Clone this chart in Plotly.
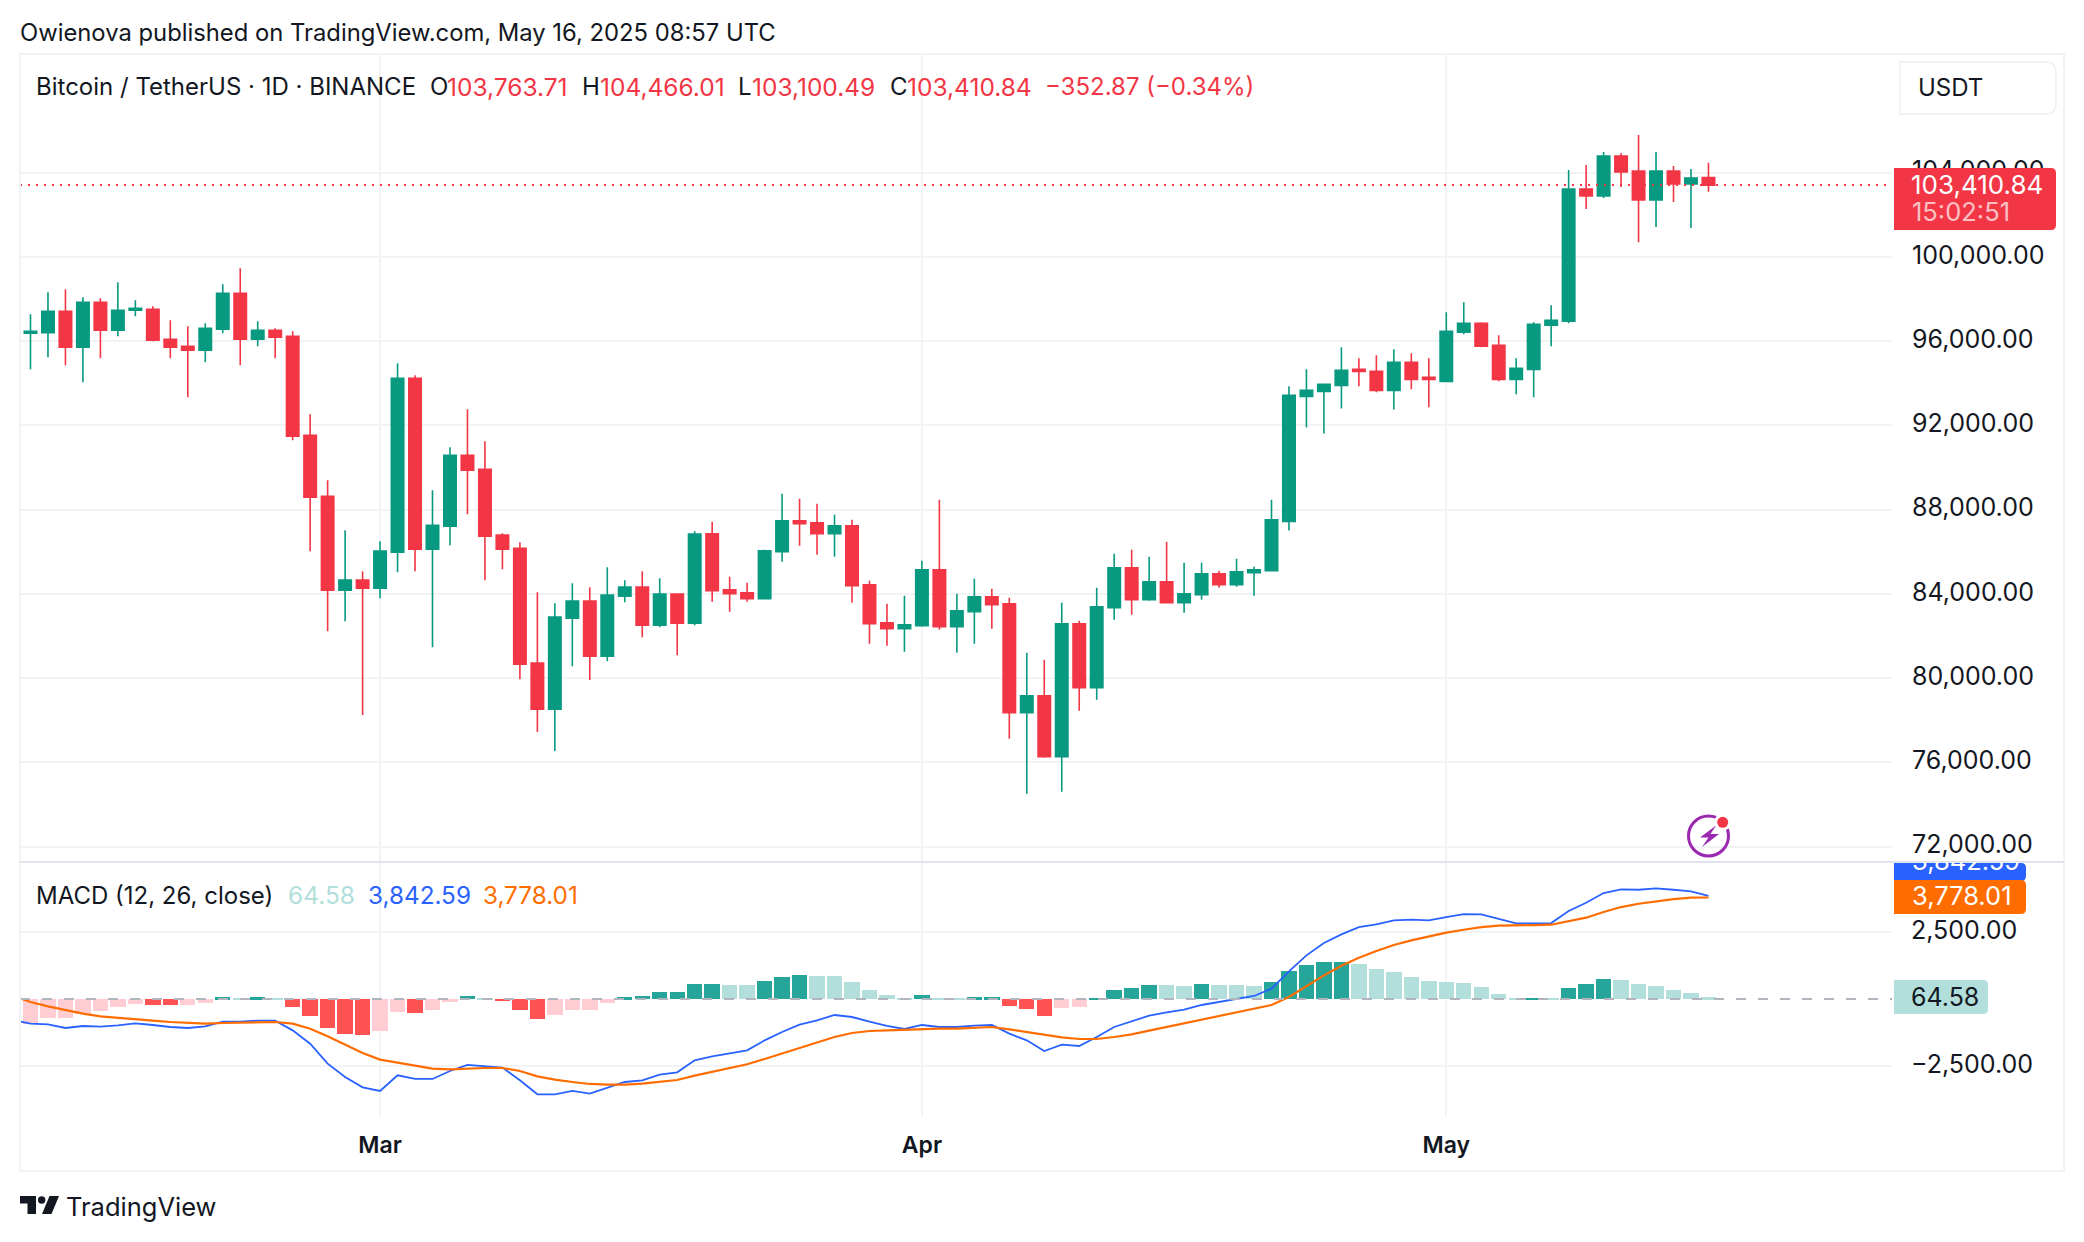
import pandas as pd
import plotly.graph_objects as go

W, H = 2084, 1242

RED = "#F23645"
GREEN = "#089981"
INK = "#131722"
GRID = "#F2F3F4"
FONT = "Inter"

# daily candles, Feb 9 to May 16 2025
dates = pd.date_range("2025-02-09", "2025-05-16", freq="D")
line_dates = pd.date_range("2025-02-08", "2025-05-16", freq="D")

open_ = [96377, 96400, 97421, 95713, 97848, 96520, 97469, 97516, 96092, 95760,
         95570, 96567, 98276, 96092, 96520, 96235, 91536, 88641, 84180, 84655,
         84275, 85983, 94242, 86126, 87217, 90587, 89923, 86791, 86173, 80715,
         78533, 82851, 83658, 81048, 83895, 84322, 82519, 83990, 82614, 86860,
         84201, 84058, 83773, 86005, 87478, 87383, 86860, 87240, 84438, 82634,
         82349, 82491, 85151, 82444, 83156, 83868, 83536, 78359, 79167, 76270,
         82586, 79547, 83346, 85246, 83726, 84581, 83583, 83963, 84961, 84438,
         85008, 85103, 87437, 93381, 93618, 93904, 94664, 94569, 93666, 94997,
         94284, 94094, 96424, 96852, 95805, 94189, 94664, 96757, 96947, 103223,
         102890, 104793, 104079, 102700, 104079, 103461, 103763.71]
high = [97279, 98323, 98465, 98086, 98038, 98798, 97943, 97659, 96994, 96709,
        96852, 98703, 99462, 96947, 96614, 96472, 92533, 89401, 87028, 85082,
        86506, 94953, 94384, 88926, 90967, 92770, 91252, 86885, 86458, 84085,
        83563, 84512, 84322, 85272, 84655, 85082, 84750, 83990, 86980, 87430,
        84818, 84533, 86100, 88760, 88522, 88285, 87763, 87525, 84628, 83536,
        83916, 85578, 88475, 84011, 84723, 84248, 83821, 81209, 80877, 83583,
        82729, 84296, 85910, 86100, 85768, 86480, 85483, 85483, 85103, 85673,
        85293, 88475, 93856, 94664, 93951, 95710, 95187, 95330, 95615, 95425,
        95187, 97375, 97850, 96899, 96281, 95187, 96899, 97708, 104127, 104365,
        104983, 104935, 105791, 104983, 104317, 104174, 104466.01]
low = [94669, 95238, 94858, 94052, 95191, 96235, 97184, 95997, 95191, 93340,
       95001, 96377, 94858, 95760, 95191, 91299, 86031, 82234, 82708, 78248,
       83800, 85034, 85082, 81475, 86316, 87787, 84655, 85177, 79956, 77441,
       76539, 80573, 79909, 80810, 83610, 81949, 82424, 81095, 82519, 83631,
       83156, 83631, 83773, 85530, 86290, 85863, 85768, 83583, 81636, 81541,
       81256, 82444, 82301, 81209, 81636, 82349, 77125, 74513, 76222, 74608,
       78455, 78977, 82776, 83014, 83678, 83583, 83109, 83726, 84296, 84343,
       83916, 85103, 87009, 91907, 91621, 92810, 93856, 93571, 92762, 93713,
       92858, 94094, 96329, 95710, 94094, 93476, 93333, 95758, 96852, 102272,
       102795, 103318, 100703, 101416, 102605, 101369, 103100.49]
close = [96472, 97421, 95713, 97848, 96520, 97469, 97564, 96045, 95713, 95570,
         96614, 98276, 96092, 96520, 96187, 91489, 88594, 84180, 84655, 84275,
         86031, 94242, 86126, 87265, 90587, 89875, 86743, 86126, 80668, 78533,
         82898, 83658, 81048, 83943, 84322, 82519, 83990, 82614, 86838, 84153,
         84011, 83773, 86053, 87478, 87335, 86860, 87240, 84391, 82586, 82349,
         82539, 85151, 82444, 83203, 83868, 83488, 78359, 79167, 76270, 82586,
         79547, 83393, 85246, 83726, 84581, 83583, 84011, 84961, 84438, 85056,
         85151, 87525, 93428, 93666, 93951, 94617, 94569, 93666, 94997, 94189,
         94189, 96471, 96852, 95758, 94189, 94712, 96804, 96994, 103223, 102890,
         104793, 104032, 102700, 104079, 103461, 103746, 103410.84]

hist = [-918, -707, -707, -546, -459, -298, -198, -236, -240, -236,
        -161, 62, 15, 62, 25, -310, -645, -1091, -1314, -1352,
        -1203, -496, -533, -422, -124, 99, 12, -50, -422, -756,
        -608, -422, -415, -161, 62, 99, 248, 252, 546, 550,
        540, 535, 657, 806, 880, 843, 840, 620, 322, 136,
        25, 136, 25, 20, 62, 65, -273, -384, -645, -347,
        -310, 25, 322, 397, 508, 505, 500, 546, 508, 505,
        500, 620, 1029, 1252, 1364, 1366, 1290, 1104, 992, 806,
        657, 620, 583, 434, 174, 25, 30, 25, 397, 546,
        732, 694, 546, 471, 322, 211, 64.58]
macd = [-781, -918, -942, -1079, -1004, -1029, -980, -905, -967, -1042,
        -1079, -1017, -843, -843, -806, -806, -1166, -1662, -2406, -2902,
        -3286, -3422, -2840, -2976, -2976, -2678, -2455, -2505, -2554, -3026,
        -3546, -3546, -3422, -3522, -3311, -3088, -3026, -2815, -2728, -2282,
        -2133, -2009, -1910, -1538, -1228, -955, -794, -595, -670, -843,
        -1004, -1116, -967, -1042, -1042, -992, -967, -1290, -1538, -1934,
        -1699, -1748, -1414, -1042, -843, -620, -496, -397, -223, -112,
        25, 112, 384, 1029, 1624, 2083, 2406, 2678, 2778, 2926,
        2951, 2926, 3050, 3162, 3150, 2988, 2815, 2815, 2827, 3274,
        3584, 3943, 4080, 4067, 4117, 4067, 4005, 3842.59]
signal = [112, -112, -273, -422, -546, -645, -707, -756, -806, -856,
          -893, -918, -893, -880, -868, -856, -918, -1104, -1389, -1686,
          -2009, -2257, -2368, -2480, -2592, -2616, -2579, -2567, -2567, -2678,
          -2877, -3001, -3088, -3162, -3187, -3187, -3150, -3088, -3013, -2852,
          -2703, -2579, -2430, -2232, -2021, -1810, -1600, -1414, -1265, -1190,
          -1166, -1141, -1128, -1104, -1104, -1079, -1042, -1128, -1228, -1352,
          -1426, -1488, -1488, -1414, -1314, -1178, -1042, -918, -794, -645,
          -521, -384, -223, 74, 471, 880, 1240, 1538, 1786, 2009,
          2182, 2331, 2468, 2579, 2678, 2728, 2753, 2753, 2765, 2889,
          3026, 3236, 3422, 3546, 3646, 3720, 3770, 3778.01]

price_ticks = [72000, 76000, 80000, 84000, 88000, 92000, 96000, 100000, 104000]
macd_ticks = [-2500, 2500]
month_ticks = ["2025-03-01", "2025-04-01", "2025-05-01"]
month_labels = ["Mar", "Apr", "May"]


def px(x):
    return x / W


def py(y):
    return 1 - y / H


def hist_color(i):
    prev = hist[i - 1] if i else hist[0] - 1
    if hist[i] >= 0:
        return "#26A69A" if hist[i] > prev else "#B2DFDB"
    return "#FF5252" if hist[i] < prev else "#FFCDD2"


def note(text, x, y, color=INK, size=24, **kw):
    return dict(text=text, x=px(x), y=py(y), xref="paper", yref="paper", showarrow=False,
                xanchor="left", yanchor="middle", borderpad=0, borderwidth=0,
                font=dict(family=FONT, size=size, color=color), **kw)


def poly(points, color):
    d = "M " + " L ".join(f"{px(x)} {py(y)}" for x, y in points) + " Z"
    return dict(type="path", xref="paper", yref="paper", path=d, fillcolor=color,
                line=dict(width=0))


def box(x0, y0, x1, y1, color, r=5, line=None):
    d = (f"M {px(x0)} {py(y0)} L {px(x1 - r)} {py(y0)} Q {px(x1)} {py(y0)} {px(x1)} {py(y0 + r)} "
         f"L {px(x1)} {py(y1 - r)} Q {px(x1)} {py(y1)} {px(x1 - r)} {py(y1)} L {px(x0)} {py(y1)} Z")
    return dict(type="path", xref="paper", yref="paper", path=d, fillcolor=color,
                line=line or dict(width=0))


def circle(cx, cy, r, fill="rgba(0,0,0,0)", line=None):
    return dict(type="circle", xref="paper", yref="paper", x0=px(cx - r), x1=px(cx + r),
                y0=py(cy + r), y1=py(cy - r), fillcolor=fill, line=line or dict(width=0))


fig = go.Figure()

fig.add_trace(go.Candlestick(
    x=dates, open=open_, high=high, low=low, close=close,
    increasing=dict(line=dict(color=GREEN, width=1.6), fillcolor=GREEN),
    decreasing=dict(line=dict(color=RED, width=1.6), fillcolor=RED),
    whiskerwidth=0, hoverinfo="skip", xaxis="x", yaxis="y",
))

fig.add_trace(go.Bar(
    x=dates, y=hist, marker=dict(color=[hist_color(i) for i in range(len(hist))], line=dict(width=0)),
    width=0.88 * 86400000, xaxis="x2", yaxis="y2", hoverinfo="skip",
))
fig.add_trace(go.Scatter(x=line_dates, y=macd, mode="lines", line=dict(color="#2962FF", width=1.8),
                         xaxis="x2", yaxis="y2", hoverinfo="skip"))
fig.add_trace(go.Scatter(x=line_dates, y=signal, mode="lines", line=dict(color="#FF6D00", width=2.2),
                         xaxis="x2", yaxis="y2", hoverinfo="skip"))

x_range = ["2025-02-08 09:36", "2025-05-26 12:00"]
x_common = dict(type="date", range=x_range, tickvals=month_ticks, showgrid=True, gridcolor=GRID,
                gridwidth=2, zeroline=False, showline=False, ticks="", fixedrange=True)

fig.update_layout(
    width=W, height=H, margin=dict(l=0, r=0, t=0, b=0), paper_bgcolor="white", plot_bgcolor="white",
    showlegend=False, font=dict(family=FONT, color=INK), bargap=0, boxgap=0.29, boxgroupgap=0,
    xaxis=dict(domain=[px(20), px(1892)], anchor="y", showticklabels=False,
               rangeslider=dict(visible=False), **x_common),
    xaxis2=dict(domain=[px(20), px(1892)], anchor="y2", ticktext=month_labels, ticklabelstandoff=13,
                tickfont=dict(family=FONT, size=23, color=INK, weight=600), **x_common),
    yaxis=dict(domain=[py(862), py(54)], anchor="x", side="right", range=[71274, 109635],
               tickvals=price_ticks, tickformat=",.2f", ticklabelstandoff=19, ticklabelshift=-2,
               showgrid=True, gridcolor=GRID, gridwidth=2, zeroline=False, showline=False, ticks="",
               tickfont=dict(family=FONT, size=25, color=INK)),
    yaxis2=dict(domain=[py(1116), py(862)], anchor="x2", side="right", range=[-4354, 5099],
                tickvals=macd_ticks, tickformat=",.2f", ticklabelstandoff=18, ticklabelshift=-2,
                showgrid=True, gridcolor=GRID, gridwidth=2, zeroline=False, showline=False, ticks="",
                tickfont=dict(family=FONT, size=25, color=INK)),
)

# last price and zero lines
fig.add_shape(type="line", xref="x domain", yref="y", x0=0, x1=1, y0=close[-1], y1=close[-1],
              line=dict(color=RED, width=2, dash="2px,6px"))
fig.add_shape(type="line", xref="x2 domain", yref="y2", x0=0, x1=1, y0=0, y1=0,
              line=dict(color="#B2B5BE", width=2, dash="10px,12px"))

shapes = [
    # frame and pane separator
    dict(type="rect", xref="paper", yref="paper", x0=px(20), x1=px(2064), y0=py(1171), y1=py(54),
         line=dict(color=GRID, width=2)),
    dict(type="line", xref="paper", yref="paper", x0=px(20), x1=px(2064), y0=py(862), y1=py(862),
         line=dict(color="#E0E3EB", width=2)),
    # axis badges
    box(1900, 62, 2056, 114, "white", r=10, line=dict(color="#EFF0F2", width=1.5)),
    box(1894, 168, 2056, 230, RED),
    box(1894, 863, 2026, 881, "#2962FF"),
    box(1894, 880, 2026, 914, "#FF6D00"),
    box(1894, 980, 1988, 1014, "#B2DFDB"),
    # lightning badge
    circle(1708.5, 836, 20, line=dict(color="#9C27B0", width=3)),
    circle(1722.7, 822.3, 8.5, fill="white"),
    circle(1722.7, 822.3, 5.5, fill=RED),
    poly([(1716, 825.5), (1700, 837.5), (1708.5, 837.5), (1702, 847), (1719, 834), (1710.5, 834)], "#9C27B0"),
    # TradingView logo
    poly([(20, 1196), (36, 1196), (36, 1214), (27.5, 1214), (27.5, 1203.5), (20, 1203.5)], INK),
    circle(41.7, 1200, 3.7, fill=INK),
    poly([(49.5, 1196), (59, 1196), (51.5, 1214), (42, 1214)], INK),
]
for s in shapes:
    fig.add_shape(**s)

annotations = [
    note("Owienova published on TradingView.com, May 16, 2025 08:57 UTC", 20, 32, INK, 23.8),
    note("Bitcoin / TetherUS · 1D · BINANCE", 36, 87),
    note("O", 430, 87), note("103,763.71", 447, 87, RED, 24.5),
    note("H", 582, 87), note("104,466.01", 600, 87, RED, 24.5),
    note("L", 738, 87), note("103,100.49", 752, 87, RED, 24.5),
    note("C", 890, 87), note("103,410.84", 907, 87, RED, 24.5),
    note("−352.87 (−0.34%)", 1045, 87, RED, 24),
    note("USDT", 1918, 88),
    note("103,410.84", 1911, 184, "white", 26),
    note("15:02:51", 1912, 212, "rgba(255,255,255,0.7)", 25.5),
    note("3,842.59", 1912, 869, "white", 25.5, height=14, valign="bottom"),
    note("3,778.01", 1912, 895, "white", 25.5),
    note("64.58", 1911, 997, INK, 25),
    note("MACD (12, 26, close)", 36, 895),
    note("64.58", 288, 895, "#B2DFDB", 24.5),
    note("3,842.59", 368, 895, "#2962FF", 24.3),
    note("3,778.01", 483, 895, "#FF6D00", 24.3),
    note("TradingView", 66, 1206, INK, 25.5),
]
fig.update_layout(annotations=annotations)

fig.write_html("out.html", config=dict(displayModeBar=False), post_script="document.body.style.margin='0';")
